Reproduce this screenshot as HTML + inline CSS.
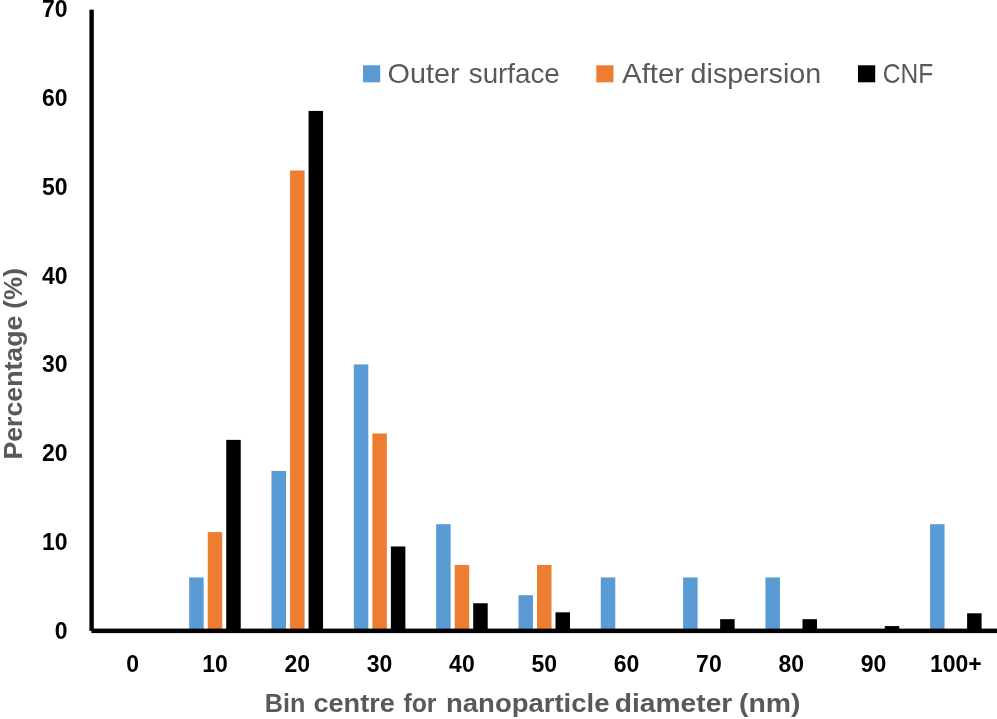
<!DOCTYPE html>
<html lang="en">
<head>
<meta charset="utf-8">
<title>Nanoparticle diameter distribution</title>
<style>
html,body{margin:0;padding:0;background:#fff;}
body{width:997px;height:719px;overflow:hidden;}
svg{display:block;}
text{font-family:"Liberation Sans",sans-serif;}
.tick{font-weight:bold;font-size:23px;fill:#000;}
.title{font-weight:bold;font-size:26.5px;fill:#595959;}
.leg{font-size:28px;fill:#595959;}
</style>
</head>
<body>
<svg width="997" height="719" viewBox="0 0 997 719">
<rect x="0" y="0" width="997" height="719" fill="#ffffff"/>
<rect x="189.18" y="577.44" width="14.50" height="53.26" fill="#5B9BD5"/>
<rect x="207.73" y="532.09" width="14.50" height="98.61" fill="#ED7D31"/>
<rect x="226.23" y="439.87" width="14.50" height="190.83" fill="#000000"/>
<rect x="271.50" y="470.93" width="14.50" height="159.77" fill="#5B9BD5"/>
<rect x="290.05" y="170.48" width="14.50" height="460.22" fill="#ED7D31"/>
<rect x="308.55" y="110.92" width="14.50" height="519.78" fill="#000000"/>
<rect x="353.82" y="364.42" width="14.50" height="266.28" fill="#5B9BD5"/>
<rect x="372.37" y="433.48" width="14.50" height="197.22" fill="#ED7D31"/>
<rect x="390.87" y="546.47" width="14.50" height="84.23" fill="#000000"/>
<rect x="436.14" y="524.19" width="14.50" height="106.51" fill="#5B9BD5"/>
<rect x="454.69" y="564.93" width="14.50" height="65.77" fill="#ED7D31"/>
<rect x="473.19" y="603.27" width="14.50" height="27.43" fill="#000000"/>
<rect x="518.46" y="595.20" width="14.50" height="35.50" fill="#5B9BD5"/>
<rect x="537.01" y="564.93" width="14.50" height="65.77" fill="#ED7D31"/>
<rect x="555.51" y="612.33" width="14.50" height="18.37" fill="#000000"/>
<rect x="600.78" y="577.44" width="14.50" height="53.26" fill="#5B9BD5"/>
<rect x="683.10" y="577.44" width="14.50" height="53.26" fill="#5B9BD5"/>
<rect x="720.15" y="619.16" width="14.50" height="11.54" fill="#000000"/>
<rect x="765.42" y="577.44" width="14.50" height="53.26" fill="#5B9BD5"/>
<rect x="802.47" y="619.16" width="14.50" height="11.54" fill="#000000"/>
<rect x="884.79" y="626.08" width="14.50" height="4.62" fill="#000000"/>
<rect x="930.06" y="524.19" width="14.50" height="106.51" fill="#5B9BD5"/>
<rect x="967.11" y="613.30" width="14.50" height="17.40" fill="#000000"/>
<rect x="89.4" y="9.7" width="4.4" height="621.2" fill="#000"/>
<rect x="91.4" y="628.6" width="905.6" height="4.5" fill="#000"/>
<text class="tick" x="67.6" y="638.5" text-anchor="end">0</text>
<text class="tick" x="67.6" y="549.7" text-anchor="end">10</text>
<text class="tick" x="67.6" y="461.0" text-anchor="end">20</text>
<text class="tick" x="67.6" y="372.2" text-anchor="end">30</text>
<text class="tick" x="67.6" y="283.5" text-anchor="end">40</text>
<text class="tick" x="67.6" y="194.7" text-anchor="end">50</text>
<text class="tick" x="67.6" y="105.9" text-anchor="end">60</text>
<text class="tick" x="67.6" y="17.2" text-anchor="end">70</text>
<text class="tick" x="132.7" y="672.2" text-anchor="middle">0</text>
<text class="tick" x="215.0" y="672.2" text-anchor="middle">10</text>
<text class="tick" x="297.3" y="672.2" text-anchor="middle">20</text>
<text class="tick" x="379.6" y="672.2" text-anchor="middle">30</text>
<text class="tick" x="461.9" y="672.2" text-anchor="middle">40</text>
<text class="tick" x="544.3" y="672.2" text-anchor="middle">50</text>
<text class="tick" x="626.6" y="672.2" text-anchor="middle">60</text>
<text class="tick" x="708.9" y="672.2" text-anchor="middle">70</text>
<text class="tick" x="791.2" y="672.2" text-anchor="middle">80</text>
<text class="tick" x="873.5" y="672.2" text-anchor="middle">90</text>
<text class="tick" x="955.9" y="672.2" text-anchor="middle">100+</text>
<text class="title" y="712.0"><tspan x="264.8" textLength="40.5" lengthAdjust="spacingAndGlyphs">Bin</tspan> <tspan x="313.4" textLength="81.5" lengthAdjust="spacingAndGlyphs">centre</tspan> <tspan x="403.4" textLength="33.0" lengthAdjust="spacingAndGlyphs">for</tspan> <tspan x="446.0" textLength="163.5" lengthAdjust="spacingAndGlyphs">nanoparticle</tspan> <tspan x="614.8" textLength="117.5" lengthAdjust="spacingAndGlyphs">diameter</tspan> <tspan x="739.0" textLength="61.5" lengthAdjust="spacingAndGlyphs">(nm)</tspan></text>
<text class="title" y="0.0" transform="translate(22.3 459.6) rotate(-90)"><tspan x="0.0" textLength="144.0" lengthAdjust="spacingAndGlyphs">Percentage</tspan> <tspan x="150.9" textLength="40.6" lengthAdjust="spacingAndGlyphs">(%)</tspan></text>
<rect x="363.0" y="65.3" width="17.2" height="17" fill="#5B9BD5"/>
<text class="leg" y="82.5"><tspan x="387.6" textLength="72.0" lengthAdjust="spacingAndGlyphs">Outer</tspan> <tspan x="468.8" textLength="91.0" lengthAdjust="spacingAndGlyphs">surface</tspan></text>
<rect x="596.3" y="65.3" width="17.2" height="17" fill="#ED7D31"/>
<text class="leg" y="82.5"><tspan x="622.1" textLength="62.0" lengthAdjust="spacingAndGlyphs">After</tspan> <tspan x="690.6" textLength="130.6" lengthAdjust="spacingAndGlyphs">dispersion</tspan></text>
<rect x="858.0" y="65.3" width="17.2" height="17" fill="#000"/>
<text class="leg" y="82.5"><tspan x="882.8" textLength="50.4" lengthAdjust="spacingAndGlyphs">CNF</tspan></text>
</svg>
</body>
</html>
